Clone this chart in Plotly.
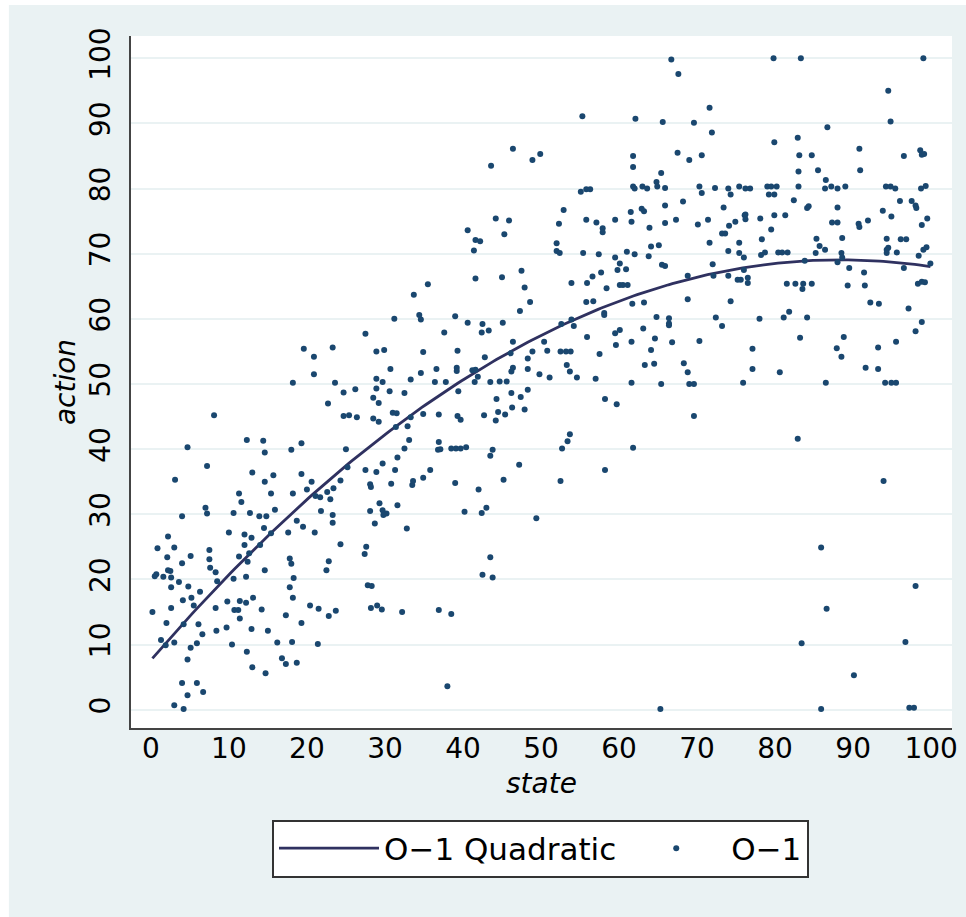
import numpy as np
import plotly.graph_objects as go

# ---- data (state, action) by region ----
state_a = [19.6, 20.9, 23.3, 20.9, 18.2, 23.6]
action_a = [55.4, 54.2, 55.6, 51.5, 50.2, 50.2]

state_b = [46.4, 43.6, 48.9, 49.9, 44.2, 45.9, 45.3, 40.6, 41.6, 42.2, 41.4, 41.6, 45.0, 47.5, 47.9,
           48.6, 47.3, 35.5, 33.7, 34.4, 34.6, 31.2, 39.0, 40.6, 42.5, 42.4, 43.3, 45.1, 27.5, 37.6,
           46.4, 28.9, 29.9, 34.9, 39.3, 42.8, 46.1, 48.9, 48.3, 30.7, 34.6, 36.6, 39.2, 39.2, 41.2,
           41.6, 46.4, 46.2, 48.3, 49.8, 28.9, 29.7, 33.3, 36.4, 37.8, 41.9, 41.5, 43.5, 44.7, 45.6]
action_b = [86.1, 83.5, 84.4, 85.3, 75.4, 75.1, 73.0, 73.6, 72.1, 71.9, 70.5, 66.2, 66.4, 67.4, 64.8,
            62.6, 61.2, 65.3, 63.7, 60.6, 59.9, 60.0, 60.4, 59.4, 59.2, 57.9, 58.2, 59.4, 57.7, 57.9,
            56.5, 55.0, 55.2, 54.9, 55.1, 54.1, 54.7, 55.0, 53.9, 52.3, 51.7, 52.3, 52.5, 52.0, 52.1,
            52.2, 52.5, 51.9, 52.3, 51.5, 50.8, 50.3, 50.7, 50.3, 50.3, 51.1, 50.3, 50.3, 50.4, 50.4]

state_c = [66.7, 67.6, 71.6, 71.9, 55.3, 62.1, 65.6, 69.6, 61.8, 61.8, 67.5, 69.0, 70.6, 65.4, 55.1,
           55.8, 56.3, 61.8, 62.0, 63.0, 63.6, 64.8, 64.9, 65.9, 70.3, 70.6, 72.3, 74.0, 74.3, 75.4,
           52.9, 52.3, 55.8, 57.1, 57.9, 57.9, 59.5, 61.5, 61.6, 62.9, 63.2, 63.9, 65.9, 65.9, 67.3,
           68.2, 70.1, 71.4, 73.4, 73.2, 73.6, 74.1, 74.9, 76.1, 71.6, 74.0, 75.4, 75.4, 76.0, 52.0,
           52.0, 52.4, 55.4, 57.4, 61.0, 62.0, 63.8, 64.1, 65.1, 65.5, 65.9, 59.5, 60.1, 59.8, 60.9,
           57.7, 56.6, 55.9, 53.9, 58.4, 60.1, 60.5, 61.1, 72.0, 68.8, 72.1, 74.0, 75.2, 75.6, 55.8,
           56.7, 61.7, 63.2, 68.8, 74.3, 58.1, 58.1, 53.9, 52.6, 54.2, 64.8, 66.4, 66.4, 66.4, 72.4,
           73.2, 63.1, 55.9, 60.1, 59.5, 59.6, 61.6, 64.6, 66.8, 70.3, 50.4, 50.8, 52.5, 53.2, 53.8,
           57.5, 64.1, 53.3, 53.7, 63.3, 64.5, 68.3, 68.8, 51.1, 54.6, 57.0, 61.6, 65.4, 69.0, 69.6,
           75.9]
action_c = [99.8, 97.6, 92.4, 88.6, 91.1, 90.7, 90.2, 90.1, 85.0, 83.3, 85.5, 84.4, 85.1, 82.4, 79.5,
            79.9, 79.9, 80.3, 80.0, 80.3, 80.0, 81.0, 80.3, 80.1, 80.3, 79.3, 80.1, 80.0, 79.1, 80.3,
            76.7, 74.6, 75.2, 74.8, 73.9, 73.3, 75.2, 76.4, 74.9, 76.9, 76.5, 74.0, 77.4, 74.7, 75.2,
            78.0, 74.5, 75.2, 77.1, 73.1, 73.1, 74.3, 74.9, 75.9, 71.7, 70.4, 71.7, 70.1, 69.4, 71.6,
            70.4, 70.1, 70.1, 69.9, 70.3, 69.9, 69.6, 71.1, 71.3, 68.3, 68.1, 69.4, 68.5, 67.5, 67.6,
            67.1, 66.5, 65.5, 65.5, 64.7, 65.2, 65.2, 65.2, 68.4, 66.6, 66.6, 66.6, 66.0, 66.0, 62.6,
            62.7, 62.3, 62.5, 63.0, 62.7, 60.9, 60.6, 59.9, 59.2, 58.9, 60.3, 60.1, 59.3, 59.0, 60.2,
            58.9, 58.5, 57.2, 58.3, 57.8, 56.0, 56.5, 57.0, 56.4, 56.6, 56.5, 55.1, 55.0, 55.0, 55.0,
            54.6, 55.2, 52.9, 51.9, 52.9, 53.1, 53.2, 51.8, 51.0, 51.0, 50.8, 50.2, 50.0, 50.0, 50.0,
            50.2]

state_d = [79.8, 83.3, 99.0, 94.5, 94.8, 86.7, 79.9, 82.9, 83.1, 84.7, 90.8, 90.9, 83.0, 85.5, 86.5,
           96.5, 98.6, 98.8, 99.1, 76.2, 76.8, 79.0, 79.5, 80.2, 79.2, 79.9, 83.0, 86.4, 87.2, 88.0,
           89.0, 94.2, 94.8, 95.4, 98.7, 99.3, 82.4, 84.1, 84.3, 88.0, 93.8, 96.0, 97.5, 98.0, 98.1,
           76.2, 76.2, 78.1, 79.9, 81.3, 79.5, 87.3, 88.0, 90.7, 90.8, 91.9, 94.9, 98.8, 99.5, 78.3,
           85.3, 88.6, 94.3, 96.1, 96.8, 85.7, 86.4, 85.2, 78.2, 78.7, 80.4, 80.9, 81.6, 88.5, 88.6,
           94.3, 94.5, 94.3, 95.6, 99.4, 99.0, 98.4, 83.8, 88.0, 89.5, 91.4, 96.5, 99.9, 76.0, 76.5,
           76.5, 81.5, 82.6, 83.6, 84.7, 83.5, 89.3, 91.5, 98.3, 98.8, 99.2, 92.2, 93.3, 97.1, 81.8,
           81.1, 78.0, 84.1, 98.8, 98.0, 83.2, 88.8, 87.9, 88.5, 93.2, 95.5, 77.1, 77.1, 80.6, 91.6,
           93.2, 86.5, 94.1, 94.9, 95.5]
action_d = [100.0, 100.0, 100.0, 95.0, 90.3, 89.4, 87.1, 87.8, 85.1, 85.1, 86.1, 82.8, 82.6, 82.8, 81.3,
            85.0, 85.9, 85.2, 85.3, 80.0, 80.0, 80.3, 80.3, 80.3, 79.1, 79.1, 80.3, 80.0, 80.3, 80.0,
            80.3, 80.3, 80.3, 80.0, 80.0, 80.4, 78.2, 77.0, 77.3, 77.1, 76.6, 78.1, 78.1, 77.4, 77.0,
            76.0, 75.3, 75.4, 75.9, 75.9, 73.7, 74.8, 74.8, 74.6, 74.1, 75.1, 75.7, 74.4, 75.4, 72.2,
            72.3, 72.4, 72.3, 72.2, 72.2, 71.2, 70.6, 70.1, 69.8, 70.2, 70.2, 70.2, 70.2, 70.1, 69.4,
            70.6, 70.9, 70.1, 70.2, 71.0, 70.6, 69.7, 68.9, 68.7, 67.8, 67.1, 67.8, 68.5, 67.5, 66.3,
            65.5, 65.4, 65.4, 65.4, 65.4, 64.6, 65.1, 65.1, 65.4, 65.7, 65.6, 62.5, 62.3, 61.6, 61.1,
            60.2, 60.0, 60.2, 59.5, 58.1, 57.1, 57.2, 55.5, 54.2, 55.6, 56.5, 55.4, 52.3, 51.8, 52.5,
            52.3, 50.2, 50.2, 50.2, 50.2]

state_e = [22.7, 8.1, 4.7, 12.3, 14.4, 14.6, 18.0, 19.3, 7.2, 3.1, 13.0, 14.6, 15.7, 19.3, 20.6,
           11.3, 11.6, 15.4, 18.2, 20.0, 21.1, 21.7, 22.6, 23.4, 23.0, 21.8, 23.3, 23.3, 7.0, 7.2,
           4.0, 10.6, 12.7, 13.9, 14.8, 15.9, 14.5, 15.4, 10.0, 12.0, 12.9, 12.0, 12.6, 12.4, 11.3,
           14.0, 17.6, 18.7, 19.5, 21.0, 2.2, 0.85, 3.0, 2.1, 5.1, 4.0, 7.5, 7.5, 7.6, 8.3,
           0.7, 0.5, 1.6, 2.2, 2.5, 2.6, 2.6, 3.6, 8.5, 10.6, 12.2, 14.6, 17.8, 18.0, 18.3,
           17.8, 18.2, 22.8, 22.5, 4.8, 6.3, 4.1, 5.2, 5.5, 2.6, 0.2, 8.3, 9.8, 10.7, 11.2,
           11.4, 12.2, 13.1, 14.2, 11.4, 2.0, 4.2, 6.1, 6.6, 5.9, 5.1, 4.7, 1.3, 1.9, 3.0,
           8.4, 9.7, 10.4, 12.9, 15.0, 12.3, 16.2, 17.3, 19.3, 18.1, 21.4, 16.8, 17.3, 18.7, 13.0,
           14.7, 20.4, 21.5, 22.8, 23.7, 4.0, 5.9, 4.7, 6.7, 3.0, 4.2]
action_e = [47.0, 45.2, 40.3, 41.4, 41.3, 39.5, 39.9, 40.9, 37.4, 35.3, 36.4, 35.0, 36.0, 36.2, 35.0,
            33.2, 31.9, 33.2, 33.2, 33.8, 32.8, 32.6, 33.4, 34.0, 32.3, 30.5, 29.9, 28.7, 31.0, 30.1,
            29.7, 30.2, 30.2, 29.7, 29.7, 30.7, 27.9, 27.1, 27.2, 26.9, 26.4, 25.3, 24.0, 22.7, 23.5,
            25.3, 27.2, 29.0, 28.1, 27.2, 26.6, 24.8, 24.9, 23.4, 23.6, 22.5, 24.5, 23.1, 21.8, 21.1,
            20.8, 20.5, 20.4, 21.4, 21.3, 20.3, 18.8, 19.6, 19.7, 20.1, 20.4, 21.4, 23.2, 22.4, 20.2,
            18.8, 17.2, 22.8, 21.4, 18.9, 18.1, 16.8, 17.2, 16.0, 15.6, 15.0, 15.6, 16.6, 15.3, 15.3,
            16.7, 16.4, 17.2, 15.4, 14.0, 13.3, 13.1, 13.1, 11.6, 10.2, 9.5, 7.7, 10.7, 9.9, 10.3,
            12.1, 12.6, 10.0, 12.4, 12.1, 8.9, 10.3, 14.5, 13.3, 10.4, 10.1, 7.9, 7.0, 7.2, 6.5,
            5.6, 16.0, 15.5, 14.4, 15.2, 4.1, 4.1, 2.2, 2.7, 0.7, 0.1]

state_f = [24.7, 26.2, 28.5, 29.2, 30.6, 32.5, 28.9, 39.4, 44.3, 46.2, 47.4, 48.3, 24.7, 25.4, 26.4,
           28.5, 29.2, 31.0, 31.5, 33.3, 34.9, 36.9, 39.3, 39.7, 42.7, 44.5, 44.2, 45.4, 46.3, 47.9,
           31.4, 32.9, 33.1, 32.5, 25.0, 36.9, 36.8, 37.1, 38.5, 39.1, 39.7, 40.4, 43.8, 43.5, 31.6,
           29.7, 27.5, 28.9, 31.3, 35.8, 25.2, 24.3, 28.1, 28.2, 30.8, 33.5, 33.6, 34.9, 39.0, 42.0,
           45.2, 47.2, 29.3, 29.7, 28.1, 30.2, 29.8, 31.6, 28.7, 32.8, 40.2, 42.4, 43.0, 49.4, 24.3,
           27.6, 27.4, 43.5, 42.5, 43.8, 27.8, 28.3, 28.2, 29.0, 29.6, 32.2, 36.9, 38.5, 38.0]
action_f = [48.7, 49.2, 47.9, 47.1, 48.9, 48.6, 49.3, 48.9, 47.7, 48.6, 48.0, 49.1, 45.1, 45.2, 44.9,
            44.7, 44.2, 45.6, 45.5, 44.9, 45.4, 45.3, 45.1, 44.5, 45.2, 45.7, 44.4, 45.3, 46.4, 46.1,
            43.4, 43.5, 41.4, 40.1, 40.0, 41.1, 39.9, 40.0, 40.1, 40.1, 40.1, 40.3, 39.9, 39.0, 38.7,
            37.8, 36.8, 36.5, 36.8, 36.8, 37.2, 35.2, 34.6, 34.2, 34.7, 34.5, 35.1, 35.6, 34.8, 33.8,
            35.3, 37.6, 31.7, 30.6, 30.5, 30.1, 29.9, 31.4, 28.6, 27.8, 30.4, 30.2, 31.0, 29.4, 25.4,
            25.0, 23.9, 23.4, 20.7, 20.3, 19.1, 19.0, 15.6, 16.0, 15.4, 15.0, 15.3, 14.7, 3.6]

state_g = [58.2, 59.7, 69.6, 53.7, 53.4, 52.7, 61.8, 58.2, 52.5, 65.3]
action_g = [47.7, 46.9, 45.1, 42.3, 41.2, 40.1, 40.2, 36.8, 35.1, 0.1]

state_h = [82.9, 93.9, 85.9, 98.0, 86.6, 83.4, 96.7, 90.1, 85.9, 97.2, 97.8]
action_h = [41.6, 35.1, 24.9, 19.0, 15.5, 10.2, 10.4, 5.3, 0.1, 0.3, 0.3]

x_ticks = [0, 10, 20, 30, 40, 50, 60, 70, 80, 90, 100]
y_ticks = [0, 10, 20, 30, 40, 50, 60, 70, 80, 90, 100]

state = np.array(state_a + state_b + state_c + state_d + state_e + state_f + state_g + state_h)
action = np.array(action_a + action_b + action_c + action_d + action_e + action_f + action_g + action_h)

# quadratic fit (like Stata's qfit)
coef = np.polyfit(state, action, 2)
fit_x = np.linspace(state.min(), state.max(), 200)
fit_y = np.polyval(coef, fit_x)

NAVY = "#1a476f"
LINE = "#2f3160"
BG = "#EAF2F3"
FONT = "DejaVu Sans"

fig = go.Figure()
fig.add_trace(go.Scatter(x=fit_x, y=fit_y, mode="lines", name="O\u22121 Quadratic",
                         line=dict(color=LINE, width=2.8)))
fig.add_trace(go.Scatter(x=state, y=action, mode="markers", name="O\u22121",
                         marker=dict(color=NAVY, size=6, line=dict(width=0))))

L, R, T, B = 131, 8, 36, 189
W, H = 966, 917
pw, ph = W - L - R, H - T - B

def px_x(p):
    return (p - L) / pw

def px_y(p):
    return (H - B - p) / ph

fig.update_layout(
    width=W, height=H,
    margin=dict(l=L, r=R, t=T, b=B, pad=0),
    paper_bgcolor=BG, plot_bgcolor="white",
    font=dict(family=FONT, size=28, color="black"),
    showlegend=True,
    legend=dict(orientation="h", x=px_x(543.5), xanchor="center", y=px_y(848.5), yanchor="middle",
                bgcolor="white", bordercolor="#333333", borderwidth=2,
                font=dict(family=FONT, size=31, color="black"),
                itemwidth=100, traceorder="normal"),
    shapes=[
        dict(type="rect", xref="paper", yref="paper", layer="below",
             x0=px_x(-20), x1=px_x(8), y0=px_y(H + 20), y1=px_y(-20),
             fillcolor="white", line=dict(width=0)),
        dict(type="rect", xref="paper", yref="paper", layer="below",
             x0=px_x(-20), x1=px_x(W + 20), y0=px_y(5), y1=px_y(-20),
             fillcolor="white", line=dict(width=0)),
    ],
)

fig.update_xaxes(range=[-2.545, 102.67], tickvals=x_ticks, ticktext=[str(v) for v in x_ticks],
                 showgrid=False, zeroline=False, showline=True, linecolor="#444444", linewidth=2,
                 ticks="", ticklabelstandoff=-6,
                 tickfont=dict(family=FONT, size=28, color="black"),
                 title=dict(text="state", font=dict(family=FONT, size=28, style="italic", color="black"),
                            standoff=10))
fig.update_yaxes(range=[-2.81, 103.42], tickvals=y_ticks, ticktext=[str(v) for v in y_ticks],
                 showgrid=True, gridcolor=BG, gridwidth=1.5, zeroline=False,
                 showline=True, linecolor="#444444", linewidth=2,
                 ticks="", tickangle=-90, ticklabelstandoff=8,
                 tickfont=dict(family=FONT, size=28, color="black"),
                 title=dict(text="action", font=dict(family=FONT, size=28, style="italic", color="black"),
                            standoff=0))

fig.write_html("out.html")
